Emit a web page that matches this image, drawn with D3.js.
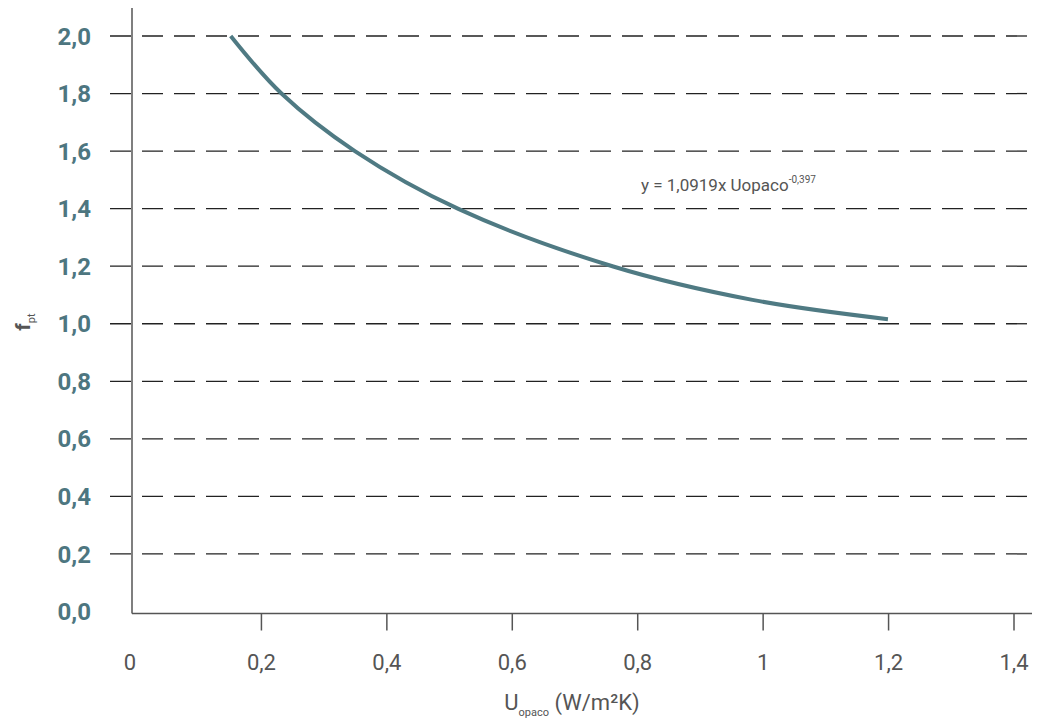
<!DOCTYPE html>
<html>
<head>
<meta charset="utf-8">
<script src="https://cdn.jsdelivr.net/npm/d3@7"></script>
<style>
    body { margin: 0; background: #fff; }
    .ytick text { font-family: Roboto, sans-serif; font-weight: bold; font-size: 24px; fill: #4d7680; }
    .xtick text { font-family: Roboto, sans-serif; font-size: 22px; fill: #555; }
    .axis_line { stroke: #555; stroke-width: 1.5; }
    .grid line { stroke: #222; stroke-width: 1.3; stroke-dasharray: 21, 11; }
    .curve { fill: none; stroke: #4f7a83; stroke-width: 4; }
    .label { font-family: Roboto, sans-serif; fill: #555; }
</style>
</head>
<body>
<div id="chart"></div>
<script>
// values
const u_values = [0.151, 0.232, 0.349, 0.514, 0.761, 0.983, 1.199];
const f_values = [2.0, 1.8, 1.6, 1.399, 1.199, 1.083, 1.016];
const x_ticks = [0, 0.2, 0.4, 0.6, 0.8, 1, 1.2, 1.4];
const y_ticks = [0, 0.2, 0.4, 0.6, 0.8, 1.0, 1.2, 1.4, 1.6, 1.8, 2.0];

const data = u_values.map(function (u, i) { return {u: u, f: f_values[i]}; });

const W = 1047, H = 722;
const svg = d3.select("#chart").append("svg")
    .attr("width", W)
    .attr("height", H);

let x = d3.scaleLinear().domain([0, 1.4]).range([136, 1014]);
let y = d3.scaleLinear().domain([0, 2]).range([611.5, 36]);
const fmt = function (d) { return d3.format(".1f")(d).replace(".", ","); };
const fmtx = function (d) { return String(d).replace(".", ","); };

// dashed gridlines
svg.append("g")
    .attr("class", "grid")
    .selectAll("line")
    .data(y_ticks.filter(function (d) { return d > 0; }))
    .join("line")
    .attr("x1", 110)
    .attr("x2", 1034)
    .attr("y1", function (d) { return y(d); })
    .attr("y2", function (d) { return y(d); });

// y axis
svg.append("line").attr("class", "axis_line")
    .attr("x1", 132).attr("x2", 132)
    .attr("y1", 8).attr("y2", y(0) + 2);

svg.append("g")
    .attr("class", "ytick")
    .selectAll("text")
    .data(y_ticks)
    .join("text")
    .attr("x", 91)
    .attr("y", function (d) { return y(d); })
    .attr("dy", "0.36em")
    .attr("text-anchor", "end")
    .text(fmt);

// x axis
svg.append("line").attr("class", "axis_line")
    .attr("x1", 132).attr("x2", 1032)
    .attr("y1", y(0) + 2).attr("y2", y(0) + 2);

const xg = svg.append("g").attr("class", "xtick");
xg.selectAll("line")
    .data(x_ticks.filter(function (d) { return d > 0; }))
    .join("line")
    .attr("class", "axis_line")
    .attr("x1", function (d) { return x(d); })
    .attr("x2", function (d) { return x(d); })
    .attr("y1", y(0) + 2)
    .attr("y2", y(0) + 19);
xg.selectAll("text")
    .data(x_ticks)
    .join("text")
    .attr("x", function (d) { return d === 0 ? x(d) - 6 : x(d); })
    .attr("y", 670)
    .attr("text-anchor", "middle")
    .text(fmtx);

// curve
svg.append("path")
    .datum(data)
    .attr("class", "curve")
    .attr("d", d3.line()
        .x(function (d) { return x(d.u); })
        .y(function (d) { return y(d.f); })
        .curve(d3.curveCatmullRom.alpha(0.5))
    );

// equation
const eq = svg.append("text")
    .attr("class", "label")
    .attr("x", 641)
    .attr("y", 191)
    .attr("font-size", 17);
eq.append("tspan").text("y = 1,0919x Uopaco");
eq.append("tspan").attr("font-size", 10).attr("dy", -8).text("-0,397");

// x title
const xt = svg.append("text")
    .attr("class", "label")
    .attr("x", 572)
    .attr("y", 710)
    .attr("text-anchor", "middle")
    .attr("font-size", 22);
xt.append("tspan").text("U");
xt.append("tspan").attr("font-size", 11).attr("dy", 6).text("opaco");
xt.append("tspan").attr("dy", -6).text(" (W/m²K)");

// y title
const yt = svg.append("text")
    .attr("class", "label")
    .attr("transform", "translate(30, 322) rotate(-90)")
    .attr("text-anchor", "middle")
    .attr("font-size", 21)
    .attr("font-weight", "bold");
yt.append("tspan").text("f");
yt.append("tspan").attr("font-size", 11).attr("font-weight", "normal").attr("dy", 5).text("pt");
</script>
</body>
</html>
